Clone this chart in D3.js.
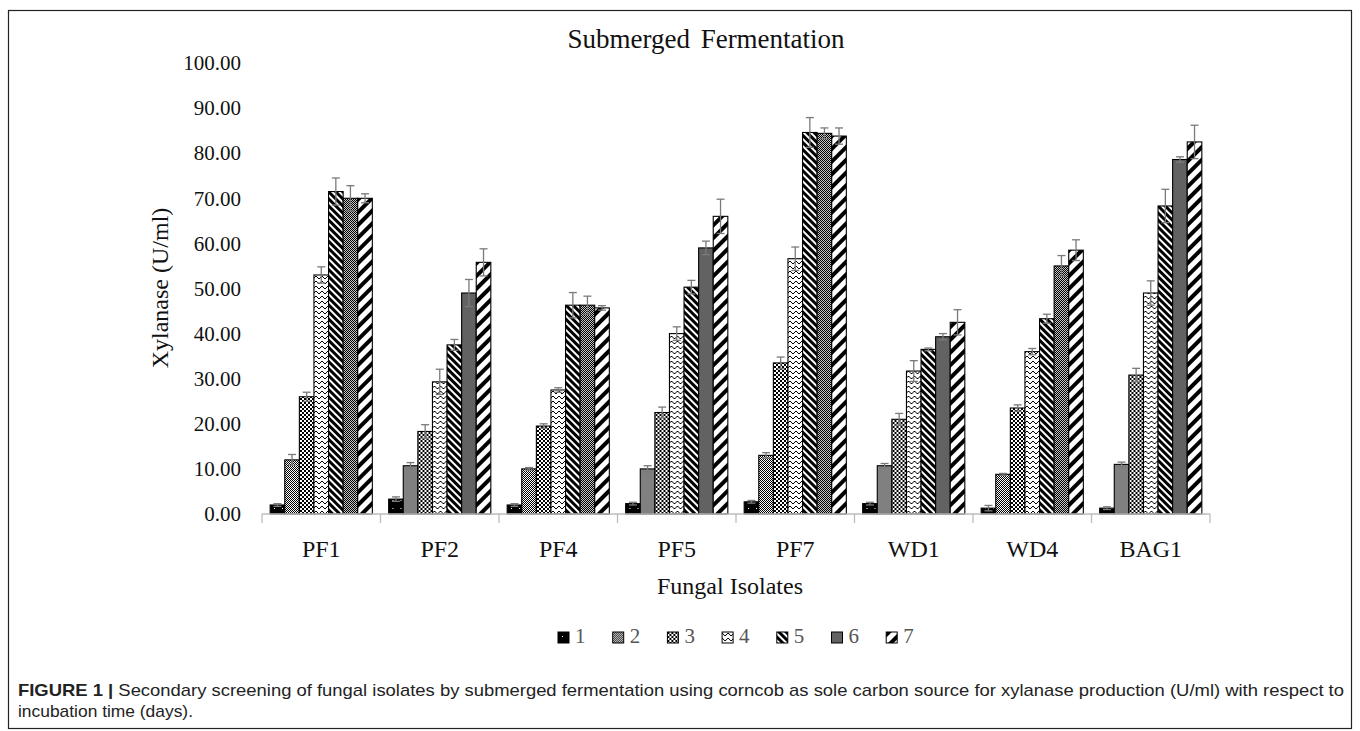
<!DOCTYPE html>
<html>
<head>
<meta charset="utf-8">
<script src="https://cdn.jsdelivr.net/npm/d3@7"></script>
<style>
  body { margin: 0; background: #fff; }
  svg { display: block; }
</style>
</head>
<body>
<div id="chart"></div>
<script>
// isolates on the x axis
var isolates = ["PF1", "PF2", "PF4", "PF5", "PF7", "WD1", "WD4", "BAG1"];
var days = ["1", "2", "3", "4", "5", "6", "7"];
var yTicks = [0, 10, 20, 30, 40, 50, 60, 70, 80, 90, 100];

// mean xylanase (U/ml) per incubation day, one value per isolate
var day1 = [2.0, 3.3, 2.0, 2.3, 2.7, 2.3, 1.3, 1.3];
var day2 = [12.0, 10.7, 10.0, 10.0, 13.0, 10.7, 8.8, 11.0];
var day3 = [26.0, 18.3, 19.5, 22.5, 33.5, 21.0, 23.5, 30.8];
var day4 = [53.0, 29.3, 27.5, 40.0, 56.6, 31.7, 36.0, 49.0];
var day5 = [71.5, 37.5, 46.3, 50.3, 84.6, 36.5, 43.3, 68.3];
var day6 = [70.0, 49.0, 46.3, 59.0, 84.4, 39.3, 55.0, 78.6];
var day7 = [70.0, 55.8, 45.7, 66.0, 83.8, 42.5, 58.5, 82.5];

// error bar sizes
var err1 = [0.3, 0.5, 0.3, 0.3, 0.3, 0.3, 0.6, 0.3];
var err2 = [1.2, 0.7, 0.3, 0.7, 0.6, 0.5, 0.2, 0.5];
var err3 = [1.0, 1.5, 0.5, 1.2, 1.3, 1.3, 0.7, 1.5];
var err4 = [1.8, 2.8, 0.5, 1.5, 2.6, 2.3, 0.7, 2.7];
var err5 = [3.0, 1.2, 2.8, 1.5, 3.3, 0.3, 1.0, 3.7];
var err6 = [2.8, 3.0, 2.0, 1.5, 1.2, 0.7, 2.3, 0.6];
var err7 = [1.0, 3.0, 0.5, 3.8, 1.8, 2.8, 2.3, 3.7];

var means = [day1, day2, day3, day4, day5, day6, day7];
var errs = [err1, err2, err3, err4, err5, err6, err7];

var W = 1360, H = 731;
var serif = "'Liberation Serif', 'Times New Roman', serif";

var svg = d3.select("#chart").append("svg")
  .attr("width", W)
  .attr("height", H);

// fill patterns, one per day
var defs = svg.append("defs");

function pat(id, w, h, transform) {
  var p = defs.append("pattern")
    .attr("id", id)
    .attr("patternUnits", "userSpaceOnUse")
    .attr("width", w)
    .attr("height", h)
    .attr("shape-rendering", "crispEdges");
  if (transform) p.attr("patternTransform", transform);
  return p;
}

var p1 = pat("p1", 8, 8);
p1.append("rect").attr("width", 8).attr("height", 8).attr("fill", "#000");
p1.append("rect").attr("x", 4).attr("y", 4).attr("width", 1).attr("height", 1).attr("fill", "#fff");

var p2 = pat("p2", 2, 2);
p2.append("rect").attr("width", 2).attr("height", 2).attr("fill", "#fff");
p2.append("rect").attr("width", 1).attr("height", 1).attr("fill", "#000");
p2.append("rect").attr("x", 1).attr("y", 1).attr("width", 1).attr("height", 1).attr("fill", "#000");

var p3 = pat("p3", 4, 4);
p3.append("rect").attr("width", 4).attr("height", 4).attr("fill", "#fff");
p3.append("rect").attr("width", 2).attr("height", 2).attr("fill", "#000");
p3.append("rect").attr("x", 2).attr("y", 2).attr("width", 2).attr("height", 2).attr("fill", "#000");

var p4 = pat("p4", 6, 5);
p4.append("rect").attr("width", 6).attr("height", 5).attr("fill", "#fff");
p4.append("path").attr("d", "M0,1 L3,4 L6,1").attr("fill", "none")
  .attr("stroke", "#000").attr("stroke-width", 1).attr("shape-rendering", "auto");

var p5 = pat("p5", 5, 5, "rotate(-45)");
p5.append("rect").attr("width", 5).attr("height", 5).attr("fill", "#fff");
p5.append("rect").attr("width", 2.5).attr("height", 5).attr("fill", "#000");

var p6 = pat("p6", 2, 2);
p6.append("rect").attr("width", 2).attr("height", 2).attr("fill", "#c4c4c4");
p6.append("rect").attr("width", 1).attr("height", 1).attr("fill", "#000");
p6.append("rect").attr("x", 1).attr("y", 1).attr("width", 1).attr("height", 1).attr("fill", "#000");

var p7 = pat("p7", 9, 9, "rotate(45)");
p7.append("rect").attr("width", 9).attr("height", 9).attr("fill", "#fff");
p7.append("rect").attr("width", 3.5).attr("height", 9).attr("fill", "#000");

var fills = ["url(#p1)", "url(#p2)", "url(#p3)", "url(#p4)", "url(#p5)", "url(#p6)", "url(#p7)"];

// outer frame round figure and caption
svg.append("rect")
  .attr("x", 8.5).attr("y", 10.5)
  .attr("width", 1343).attr("height", 718)
  .attr("fill", "none")
  .attr("stroke", "#222")
  .attr("stroke-width", 1.2);

var x0 = d3.scaleBand()
  .domain(isolates)
  .range([262, 1210]);

var x1 = d3.scaleBand()
  .domain(days)
  .range([0, x0.bandwidth()])
  .paddingOuter(0.56)
  .paddingInner(0);

var y = d3.scaleLinear()
  .domain([0, 100])
  .range([514, 63]);

// title
svg.append("text")
  .attr("x", 706)
  .attr("y", 48)
  .attr("text-anchor", "middle")
  .attr("font-family", serif)
  .attr("font-size", 27)
  .attr("word-spacing", 4)
  .attr("fill", "#111")
  .text("Submerged Fermentation");

// y axis, labels only
var yAxis = svg.append("g")
  .attr("transform", "translate(241,0)")
  .call(d3.axisLeft(y).tickValues(yTicks).tickFormat(d3.format(".2f")).tickSize(0).tickPadding(0));
yAxis.select(".domain").remove();
yAxis.selectAll("text")
  .attr("font-family", serif)
  .attr("font-size", 21)
  .attr("fill", "#111");

// bars
var groups = svg.append("g")
  .selectAll("g")
  .data(isolates)
  .join("g")
  .attr("transform", function(d) { return "translate(" + x0(d) + ",0)"; });

groups.selectAll("rect")
  .data(function(d, i) {
    return days.map(function(day, j) {
      return {day: day, j: j, value: means[j][i], err: errs[j][i]};
    });
  })
  .join("rect")
  .attr("x", function(d) { return x1(d.day); })
  .attr("y", function(d) { return y(d.value); })
  .attr("width", x1.bandwidth())
  .attr("height", function(d) { return y(0) - y(d.value); })
  .attr("fill", function(d) { return fills[d.j]; })
  .attr("stroke", "#000")
  .attr("stroke-width", 1.1);

// error bars
var eb = groups.selectAll("g.err")
  .data(function(d, i) {
    return days.map(function(day, j) {
      return {day: day, value: means[j][i], err: errs[j][i]};
    });
  })
  .join("g")
  .attr("class", "err")
  .attr("stroke", "#7a7a7a")
  .attr("stroke-width", 1.3);

eb.append("line")
  .attr("x1", function(d) { return x1(d.day) + x1.bandwidth() / 2; })
  .attr("x2", function(d) { return x1(d.day) + x1.bandwidth() / 2; })
  .attr("y1", function(d) { return y(d.value + d.err); })
  .attr("y2", function(d) { return y(d.value - d.err); });

eb.selectAll("line.cap")
  .data(function(d) { return [d.value + d.err, d.value - d.err].map(function(v) { return {day: d.day, v: v}; }); })
  .join("line")
  .attr("class", "cap")
  .attr("x1", function(d) { return x1(d.day) + x1.bandwidth() / 2 - 4; })
  .attr("x2", function(d) { return x1(d.day) + x1.bandwidth() / 2 + 4; })
  .attr("y1", function(d) { return y(d.v); })
  .attr("y2", function(d) { return y(d.v); });

// x axis with category dividers
var xAxis = svg.append("g")
  .attr("transform", "translate(0," + y(0) + ")");

xAxis.append("line")
  .attr("x1", x0.range()[0])
  .attr("x2", x0.range()[1])
  .attr("stroke", "#bdbdbd")
  .attr("stroke-width", 1.3);

xAxis.selectAll("line.tick")
  .data(isolates.concat(["end"]))
  .join("line")
  .attr("class", "tick")
  .attr("x1", function(d, i) { return x0.range()[0] + i * x0.step(); })
  .attr("x2", function(d, i) { return x0.range()[0] + i * x0.step(); })
  .attr("y1", 0)
  .attr("y2", 9)
  .attr("stroke", "#bdbdbd")
  .attr("stroke-width", 1.3);

xAxis.selectAll("text")
  .data(isolates)
  .join("text")
  .attr("x", function(d) { return x0(d) + x0.bandwidth() / 2; })
  .attr("y", 43)
  .attr("text-anchor", "middle")
  .attr("font-family", serif)
  .attr("font-size", 24)
  .attr("fill", "#111")
  .text(function(d) { return d; });

// axis titles
svg.append("text")
  .attr("x", 730)
  .attr("y", 594)
  .attr("text-anchor", "middle")
  .attr("font-family", serif)
  .attr("font-size", 24)
  .attr("fill", "#111")
  .text("Fungal Isolates");

svg.append("text")
  .attr("transform", "translate(168,288) rotate(-90)")
  .attr("text-anchor", "middle")
  .attr("font-family", serif)
  .attr("font-size", 24)
  .attr("fill", "#111")
  .text("Xylanase (U/ml)");

// legend
var legend = svg.append("g")
  .selectAll("g")
  .data(days)
  .join("g")
  .attr("transform", function(d, i) { return "translate(" + (558 + i * 54.7) + ",632)"; });

legend.append("rect")
  .attr("width", 11)
  .attr("height", 11)
  .attr("fill", function(d, i) { return fills[i]; })
  .attr("stroke", "#000")
  .attr("stroke-width", 1);

legend.append("text")
  .attr("x", 17)
  .attr("y", 11)
  .attr("font-family", serif)
  .attr("font-size", 21)
  .attr("fill", "#555")
  .text(function(d) { return d; });

// caption
var sans = "'Liberation Sans', Arial, sans-serif";
var cap1 = svg.append("text")
  .attr("x", 18)
  .attr("y", 696)
  .attr("font-family", sans)
  .attr("font-size", 17)
  .attr("fill", "#222")
  .attr("textLength", 1326)
  .attr("lengthAdjust", "spacingAndGlyphs");
cap1.append("tspan").attr("font-weight", "bold").text("FIGURE 1 | ");
cap1.append("tspan").text("Secondary screening of fungal isolates by submerged fermentation using corncob as sole carbon source for xylanase production (U/ml) with respect to");

svg.append("text")
  .attr("x", 18)
  .attr("y", 717)
  .attr("font-family", sans)
  .attr("font-size", 17)
  .attr("fill", "#222")
  .attr("textLength", 175)
  .attr("lengthAdjust", "spacingAndGlyphs")
  .text("incubation time (days).");
</script>
</body>
</html>
